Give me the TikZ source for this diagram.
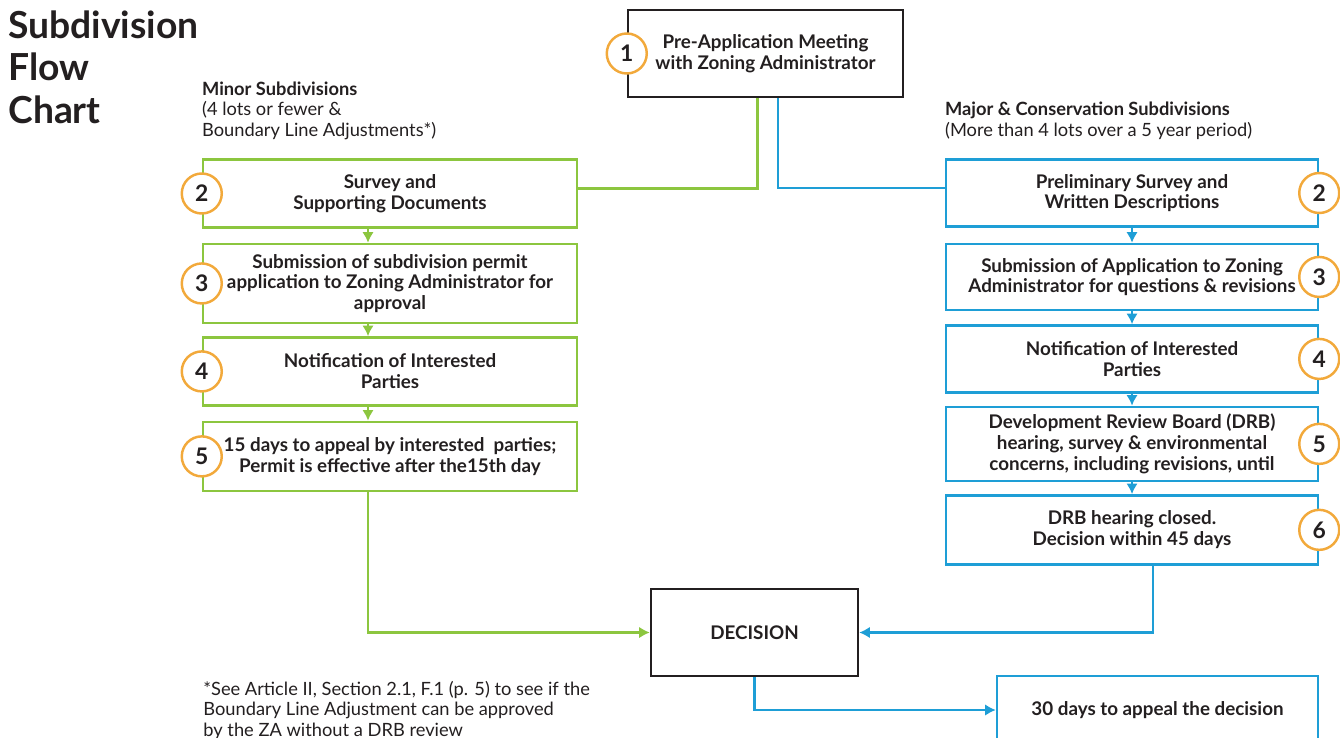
\documentclass[tikz,border=0pt]{standalone}
\usepackage{fontspec}
\setmainfont{Lato}
\usetikzlibrary{arrows.meta,calc,positioning,shapes}
\definecolor{mgreen}{HTML}{8CC63F}
\definecolor{mblue}{HTML}{1E9ED6}
\definecolor{morange}{HTML}{F2A93B}
\definecolor{mblack}{HTML}{231F20}
\tikzset{%
	block/.style    = {draw=mblack, line width=1.4pt, rectangle, align=center, inner ysep=2pt, text=mblack, font=\bfseries\fontsize{10.7}{11.8}\selectfont},
	gblock/.style   = {block, draw=mgreen, minimum width=7.48cm, minimum height=1.36cm}, % Minor
	bblock/.style   = {block, draw=mblue, minimum width=7.44cm, minimum height=1.34cm}, % Major
	num/.style      = {draw=morange, line width=1.4pt, circle, fill=white, minimum size=0.8cm, inner sep=0pt, text=mblack, font=\bfseries\fontsize{13}{13}\selectfont}, % Step number
	note/.style     = {align=left, inner sep=0pt, text=mblack, font=\fontsize{10.4}{11.6}\selectfont},
	garrow/.style   = {mgreen, line width=1.4pt},
	barrow/.style   = {mblue, line width=1.4pt},
}

\begin{document}
\begin{tikzpicture}[node distance=0.28cm,>={Latex[length=6pt,width=6.5pt]}]
	\useasboundingbox (0,0) rectangle (26.8,-14.76);
	\node [anchor=north west,inner sep=0pt,align=left,text=mblack,font=\bfseries\fontsize{21.2}{24.4}\selectfont] (title) at (0.16,-0.2) {Subdivision\\Flow\\Chart};
	
	\node [block,minimum width=5.5cm,minimum height=1.74cm] (pre) at (15.31,-1.07) {Pre-Application Meeting\\with Zoning Administrator};
	\node [num] (n1) at (pre.west) {1};
	
	\node [gblock] (g2) at (7.8,-3.87) {Survey and\\Supporting Documents};
	\node [gblock,minimum height=1.58cm] (g3) [below=of g2] {Submission of subdivision permit\\application to Zoning Administrator for\\approval};
	\node [gblock] (g4) [below=0.24cm of g3] {Notification of Interested\\Parties};
	\node [gblock,minimum height=1.38cm] (g5) [below=of g4] {15 days to appeal by interested~ parties;\\Permit is effective after the15th day};
	\node [num] (gn2) at (g2.west) {2};
	\node [num] (gn3) at (g3.west) {3};
	\node [num] (gn4) at (g4.west) {4};
	\node [num] (gn5) at (g5.west) {5};
	\node [note,anchor=south west] (minorhd) at ([yshift=0.37cm]g2.north west) {\textbf{Minor Subdivisions}\\(4 lots or fewer \&\\Boundary Line Adjustments*)};
	
	\node [bblock] (b2) at (22.64,-3.86) {Preliminary Survey and\\Written Descriptions};
	\node [bblock,minimum height=1.32cm] (b3) [below=0.3cm of b2] {Submission of Application to Zoning\\Administrator for questions \& revisions};
	\node [bblock] (b4) [below=0.26cm of b3] {Notification of Interested\\Parties};
	\node [bblock,minimum height=1.48cm] (b5) [below=0.24cm of b4] {Development Review Board (DRB)\\hearing, survey \& environmental\\concerns, including revisions, until};
	\node [bblock,minimum height=1.38cm] (b6) [below=0.24cm of b5] {DRB hearing closed.\\Decision within 45 days};
	\node [num] (bn2) at (b2.east) {2};
	\node [num] (bn3) at (b3.east) {3};
	\node [num] (bn4) at (b4.east) {4};
	\node [num] (bn5) at (b5.east) {5};
	\node [num] (bn6) at (b6.east) {6};
	\node [note,anchor=south west] (majorhd) at ([yshift=0.37cm]b2.north west) {\textbf{Major \& Conservation Subdivisions}\\(More than 4 lots over a 5 year period)};
	
	\node [block,minimum width=4.14cm,minimum height=1.74cm] (dec) at (15.09,-12.65) {DECISION};
	\node [block,draw=mblue,minimum width=6.42cm,minimum height=1.36cm] (appeal) at (23.15,-14.2) {30 days to appeal the decision};
	\node [note,anchor=north west] (foot) at (4.06,-13.62) {*See Article II, Section 2.1, F.1 (p. 5) to see if the\\Boundary Line Adjustment can be approved\\by the ZA without a DRB review};
	
	\draw[garrow] ([xshift=-0.16cm]pre.south) |- ([yshift=0.1cm]g2.east);
	\draw[barrow] ([xshift=0.25cm]pre.south) |- ([yshift=0.1cm]b2.west);
	
	\draw[garrow,->] ([xshift=-0.44cm]g2.south) -- ([xshift=-0.44cm]g3.north);
	\draw[garrow,->] ([xshift=-0.44cm]g3.south) -- ([xshift=-0.44cm]g4.north);
	\draw[garrow,->] ([xshift=-0.44cm]g4.south) -- ([xshift=-0.44cm]g5.north);
	\draw[garrow,->] ([xshift=-0.44cm]g5.south) |- (dec.west);
	
	\draw[barrow,->] (b2) -- (b3);
	\draw[barrow,->] (b3) -- (b4);
	\draw[barrow,->] (b4) -- (b5);
	\draw[barrow,->] (b5) -- (b6);
	\draw[barrow,->] ([xshift=0.42cm]b6.south) |- (dec.east);
	\draw[barrow,->] (dec.south) |- (appeal.west);
\end{tikzpicture}
\end{document}
